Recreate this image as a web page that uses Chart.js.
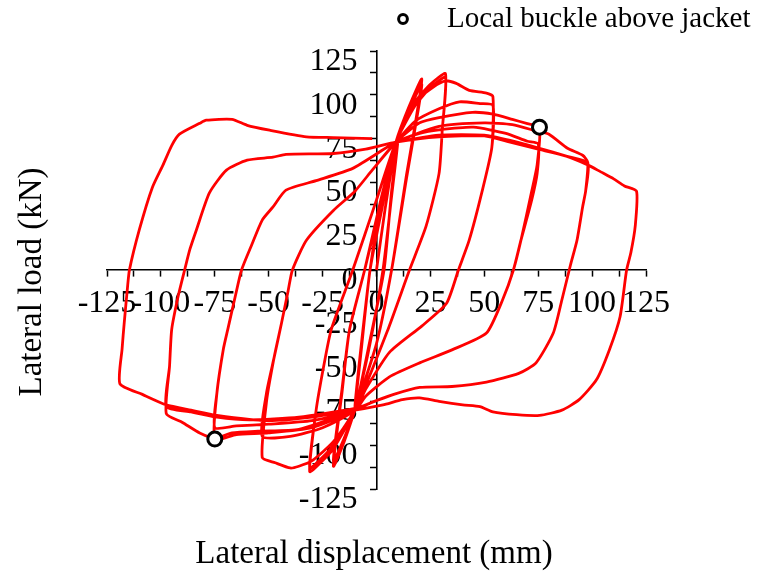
<!DOCTYPE html>
<html>
<head>
<meta charset="utf-8">
<script src="https://cdn.jsdelivr.net/npm/chart.js@4.4.1/dist/chart.umd.min.js"></script>
<style>
  html, body { margin: 0; padding: 0; background: #fff; }
  #wrap { width: 761px; height: 579px; }
</style>
</head>
<body>
<div id="wrap"><canvas id="hysteresis" width="761" height="579"></canvas></div>
<script>
/* Cyclic lateral load test — hysteresis loops.
   Each array is one drift level: [displacement (mm), load (kN)], in test order. */
const level10 = [[0,0],[4,35],[8,65],[10,76],[7,45],[3.5,0],[-3,-40],[-8,-70],[-10,-80],[-7,-45],[-3,0],
  [3,38],[8,68],[10,75],[7,42],[3,0],[-3,-42],[-8,-70],[-10,-78],[-7,-42],[-3,0]];
const level20 = [[2,38],[9,73],[15,93],[21,109],[17.5,80],[14,55],[7,0],[0,-42],[-10,-80],[-15,-98],[-20,-112],
  [-16,-70],[-12.5,-34],[-5.5,0],
  [2,38],[9,73],[15,91],[21,106],[17.5,78],[14,53],[7,0],[0,-42],[-10,-80],[-15,-96],[-20,-109],
  [-16,-68],[-12.5,-34],[-5.5,0]];
const level30 = [[2,40],[9,73],[18,96],[25,106],[32,112],[30.5,80],[29,55],[23,25],[15.3,0],[5,-35],[-10,-80],
  [-20,-102],[-26,-110],[-31,-115],[-28,-80],[-24.5,-55],[-21,-34],[-11,0],
  [0,40],[9,73],[18,94],[25,104],[32,110],[30.5,80],[29,55],[23,25],[15.3,0],[5,-35],[-10,-80],
  [-20,-100],[-26,-108],[-31,-113],[-28,-80],[-24.5,-55],[-21,-34],[-11,0]];
const level50 = [[0,40],[9,73],[18,96],[27,105],[32,108],[37,106.5],[43,102.5],[51,101],[54,99],[53.5,70],
  [49,45],[43,17],[38,0],[32.5,-19],[21,-32],[6,-47],[-5,-68],[-10,-80],[-20,-98],[-30,-109],[-36,-112],
  [-40,-113],[-47,-110],[-53,-107],[-51,-75],[-47.5,-50],[-44,-30],[-41,-12],[-39,0],[-32.5,17],[-20,34],
  [-10,45],[-2,57],
  [9,73],[18,85],[29,92],[38.5,96],[48,95],[54,94],[53.5,70],[49,45],[43,17],[38,0],[32.5,-19],[21,-32],
  [6,-47],[-5,-68],[-10,-80],[-25,-90],[-40,-95],[-53,-95],[-51,-70],[-47.5,-50],[-44,-30],[-41,-12],
  [-39,0],[-32.5,17],[-20,34],[-10,45],[-2,57]];
const level75 = [[9,73],[20,84],[29,87],[44.5,90],[54,89],[63,86],[70,83.5],[75.6,81.5],[74.5,60],[72,45],
  [67,17],[63.5,0],[58.5,-17],[51,-36],[35,-45.6],[20,-53],[6,-61],[-5,-72],[-10,-80],[-30,-90],[-50,-93],
  [-65,-94],[-75,-96.5],[-74,-70],[-71,-45],[-69,-34],[-65.5,-15],[-62.6,0],[-58,14],[-53,28.5],[-48,36],
  [-42,45.6],[-28,51],[-11,58],
  [9,73],[20,78],[29,80],[45,81.5],[60,78],[70,73.5],[75,72],[74.5,55],[72,40],[67,17],[63.5,0],[58.5,-17],
  [51,-36],[35,-45.6],[20,-53],[6,-61],[-5,-72],[-10,-80],[-30,-86],[-50,-88],[-65,-89],[-75,-90],[-74,-70],
  [-71,-45],[-69,-34],[-65.5,-15],[-62.6,0],[-58,14],[-53,28.5],[-48,36],[-42,45.6],[-28,51],[-11,58]];
const level100 = [[9,73],[29,82],[50,84],[63,83],[75,79],[80,77.5],[88.6,69.5],[95.6,65.5],[98,61.5],[97,45],
  [95.6,36],[93,17],[90,3],[86,-17],[82,-36],[74,-53],[66,-59],[51,-64],[35,-66.5],[20,-67],[8,-71],[-3,-76],
  [-10,-80],[-36,-91],[-55,-92],[-67,-93],[-75,-96],[-82,-93],[-90,-87],[-97.5,-82],[-96,-55],[-95,-34],
  [-92,-15],[-89,0],[-86.5,12],[-83.5,23],[-77.5,44],[-69.6,57],[-60,62.7],[-48,64.4],[-42,66],[-20,66.5],
  [-5,69],
  [9,73],[29,77],[50,77],[62,74],[75.6,69.5],[88,65],[98,61],[97,45],[95.6,36],[93,17],[90,3],[86,-17],
  [82,-36],[74,-53],[66,-59],[51,-64],[35,-66.5],[20,-67],[8,-71],[-3,-76],[-10,-79],[-36,-84],[-59,-85.5],
  [-74,-84],[-86,-81],[-97.5,-78],[-96,-55],[-95,-34],[-92,-15],[-89,0],[-86.5,12],[-83.5,23],[-77.5,44],
  [-69.6,57],[-60,62.7],[-48,64.4],[-42,66],[-20,66.5],[-5,69]];
const level120 = [[9,73],[29,76],[50,76.5],[62,73],[75,69],[88,65],[98,60],[104,56],[110,52],[115,48],
  [120.6,45],[120,25],[118,10],[116,0],[113,-26.5],[108,-45.6],[102,-62.7],[94,-74],[86,-80],[75.6,-83],
  [65,-82.6],[54,-81],[48,-78],[40,-77],[29,-75],[20,-73],[12,-74],[3,-77],[-10,-80],[-30,-84],[-51,-86],
  [-74,-83],[-86,-80],[-97.5,-77],[-108.6,-71],[-119,-65],[-118,-45],[-117,-30],[-115.5,-10],[-114.6,0],
  [-110,23],[-104,47],[-99,60],[-95,71],[-91.4,77.5],[-82,83.7],[-79,85.5],[-67,86],[-60,82.6],
  [-49.6,79.8],[-32.5,76],[-20,75.6],[-2,75]];

const buckleDisp = [75.6, -75];
const buckleLoad = [81.5, -96.5];

const dispTicks = [-125, -100, -75, -50, -25, 0, 25, 50, 75, 100, 125];
const loadTicks = [-125, -100, -75, -50, -25, 0, 25, 50, 75, 100, 125];

const xTitle = 'Lateral displacement (mm)';
const yTitle = 'Lateral load (kN)';
const legendText = 'Local buckle above jacket';

const serif = '"Liberation Serif", "Times New Roman", serif';

// whole loading history as one trace
const history = [].concat(level10, level20, level30, level50, level75, level100, level120)
  .map(p => ({ x: p[0], y: p[1] }));
const buckles = buckleDisp.map((d, i) => ({ x: d, y: buckleLoad[i] }));

// tick labels + axis titles sit under the red trace; legend on top
const axisText = {
  id: 'axisText',
  beforeDatasetsDraw(chart) {
    const { ctx, scales: { x, y } } = chart;
    const x0 = x.getPixelForValue(0), y0 = y.getPixelForValue(0);
    ctx.save();
    ctx.fillStyle = '#000';
    ctx.font = '32px ' + serif;
    ctx.textBaseline = 'alphabetic';
    ctx.textAlign = 'right';
    loadTicks.forEach(v => ctx.fillText(String(v), x0 - 19, y.getPixelForValue(v) + 19));
    ctx.textAlign = 'center';
    dispTicks.forEach(v => ctx.fillText(String(v), x.getPixelForValue(v), y0 + 41.5));
    ctx.font = '33px ' + serif;
    ctx.fillText(xTitle, 374, 563);
    ctx.translate(41, 282);
    ctx.rotate(-Math.PI / 2);
    ctx.fillText(yTitle, 0, 0);
    ctx.restore();
  },
  afterDraw(chart) {
    const ctx = chart.ctx;
    ctx.save();
    ctx.beginPath();
    ctx.arc(403, 19, 4.4, 0, Math.PI * 2);
    ctx.fillStyle = '#fff';
    ctx.fill();
    ctx.lineWidth = 3;
    ctx.strokeStyle = '#000';
    ctx.stroke();
    ctx.fillStyle = '#000';
    ctx.font = '29px ' + serif;
    ctx.textAlign = 'left';
    ctx.textBaseline = 'alphabetic';
    ctx.fillText(legendText, 447, 27);
    ctx.restore();
  }
};

function axis(pos, fit) {
  return {
    type: 'linear', min: -125, max: 125, position: pos,
    afterFit: fit,
    ticks: { display: false, stepSize: 12.5 },
    grid: { drawOnChartArea: false, color: '#000', tickLength: 6, tickWidth: 1.5 },
    border: { display: true, color: '#000', width: 1.6 }
  };
}

new Chart(document.getElementById('hysteresis'), {
  type: 'scatter',
  data: {
    datasets: [
      {
        label: legendText, data: buckles, showLine: false,
        pointRadius: 7, pointBorderWidth: 3,
        pointBorderColor: '#000', pointBackgroundColor: '#fff'
      },
      {
        label: 'Hysteresis', data: history, showLine: true,
        borderColor: '#ff0000', borderWidth: 2.8, pointRadius: 0,
        tension: 0.2, fill: false
      }
    ]
  },
  options: {
    responsive: false,
    animation: false,
    layout: { padding: { left: 107, right: 115, top: 51, bottom: 90 } },
    plugins: { legend: { display: false }, tooltip: { enabled: false } },
    scales: {
      x: axis({ y: 0 }, s => { s.height = 0; }),
      y: axis({ x: 0 }, s => { s.width = 0; })
    }
  },
  plugins: [axisText]
});
</script>
</body>
</html>
